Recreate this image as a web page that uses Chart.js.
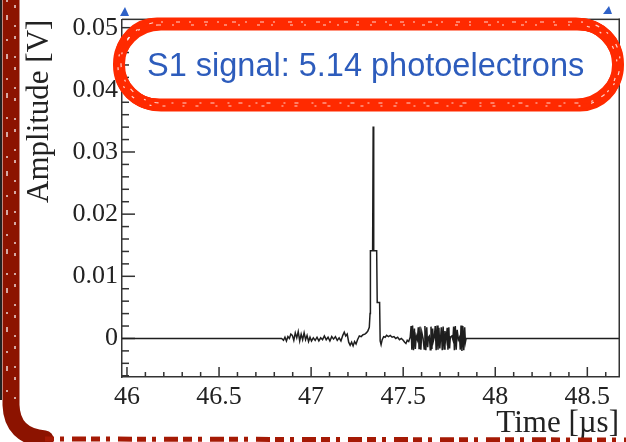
<!DOCTYPE html>
<html>
<head>
<meta charset="utf-8">
<script src="https://cdn.jsdelivr.net/npm/chart.js@4.4.1/dist/chart.umd.min.js"></script>
<style>
  html, body { margin: 0; padding: 0; background: #fff; }
  #wrap { position: relative; width: 626px; height: 442px; }
  #wrap canvas { position: absolute; left: 0; top: 0; display: block; }
</style>
</head>
<body>
<div id="wrap">
  <canvas id="tickLayer" width="626" height="442"></canvas>
  <canvas id="myChart" width="626" height="442"></canvas>
</div>
<script>
var sampleTimes = [
  45.973, 46.840, 46.850, 46.858, 46.866, 46.874, 46.882, 46.890, 46.898, 46.906,
  46.914, 46.922, 46.930, 46.938, 46.946, 46.954, 46.962, 46.970, 46.978, 46.986,
  46.994, 47.002, 47.012, 47.022, 47.032, 47.042, 47.052, 47.062, 47.072, 47.082,
  47.092, 47.102, 47.112, 47.122, 47.132, 47.142, 47.152, 47.162, 47.172, 47.180,
  47.188, 47.196, 47.204, 47.212, 47.220, 47.228, 47.236, 47.244, 47.252, 47.262,
  47.272, 47.282, 47.292, 47.300, 47.308, 47.316, 47.320, 47.322, 47.334, 47.337,
  47.340, 47.356, 47.359, 47.372, 47.375, 47.380, 47.386, 47.394, 47.402, 47.410,
  47.420, 47.430, 47.440, 47.450, 47.460, 47.470, 47.480, 47.490, 47.500, 47.508,
  47.515, 47.522, 47.530, 47.538, 47.543, 47.547, 47.551, 47.556, 47.561, 47.566,
  47.571, 47.577, 47.582, 47.586, 47.591, 47.596, 47.601, 47.608, 47.614, 47.618,
  47.623, 47.628, 47.633, 47.637, 47.642, 47.647, 47.651, 47.656, 47.660, 47.664,
  47.669, 47.674, 47.679, 47.684, 47.689, 47.694, 47.699, 47.703, 47.707, 47.712,
  47.717, 47.722, 47.727, 47.733, 47.739, 47.743, 47.748, 47.752, 47.756, 47.764,
  47.770, 47.774, 47.778, 47.783, 47.788, 47.793, 47.800, 47.806, 47.810, 47.814,
  47.819, 47.824, 47.829, 47.834, 47.838, 47.842, 48.672
];
var sampleVolts = [
  0, 0, -0.0003, 0.0002, -0.0004, 0.0003, 0.0000, 0.0007, 0.0005, -0.0003,
  0.0009, 0.0001, 0.0011, -0.0004, 0.0007, -0.0002, 0.0009, -0.0002, 0.0005, -0.0005,
  0.0002, -0.0004, 0.0001, -0.0003, 0.0002, -0.0004, 0.0001, -0.0002, 0.0004, -0.0002,
  0.0002, -0.0004, 0.0003, -0.0001, 0.0003, -0.0003, 0.0001, -0.0004, 0.0005, 0.0010,
  0.0004, 0.0007, -0.0006, -0.0011, -0.0006, -0.0012, -0.0005, -0.0009, -0.0002, 0.0004,
  0.0003, 0.0006, 0.0007, 0.0009, 0.0012, 0.0018, 0.0040, 0.0141, 0.0141, 0.0341,
  0.0141, 0.0141, 0.0058, 0.0058, -0.0004, -0.0010, -0.0002, 0.0003, 0.0002, 0.0005,
  0.0003, 0.0005, 0.0002, 0.0003, 0.0000, 0.0002, -0.0002, 0.0000, -0.0003, -0.0006,
  -0.0008, -0.0003, -0.0005, 0.0002, 0.0020, -0.0018, 0.0021, -0.0019, 0.0016, -0.0017,
  0.0004, -0.0002, 0.0018, -0.0016, 0.0019, -0.0018, 0.0010, 0.0000, -0.0017, 0.0020,
  -0.0019, 0.0018, -0.0014, 0.0002, 0.0004, -0.0018, 0.0019, -0.0017, 0.0016, -0.0004,
  0.0002, 0.0020, -0.0019, 0.0021, -0.0018, 0.0017, -0.0016, 0.0000, 0.0018, -0.0019,
  0.0019, -0.0017, 0.0012, -0.0002, 0.0017, -0.0018, 0.0018, -0.0016, 0.0002, 0.0004,
  -0.0002, 0.0019, -0.0019, 0.0020, -0.0018, 0.0014, -0.0002, 0.0002, -0.0018, 0.0021,
  -0.0020, 0.0020, -0.0019, 0.0018, -0.0006, 0, 0
];

var xRange = [45.973, 48.672];
var yRange = [-0.0062, 0.0513];
var xTicks = [46, 46.5, 47, 47.5, 48, 48.5];
var xTickLabels = ["46", "46.5", "47", "47.5", "48", "48.5"];
var yTicks = [0, 0.01, 0.02, 0.03, 0.04, 0.05];
var yTickLabels = ["0", "0.01", "0.02", "0.03", "0.04", "0.05"];
var xMinorStep = 0.1;
var yMinorStep = 0.002;

var xTitle = "Time [\u00b5s]";
var yTitle = "Amplitude [V]";
var noteText = "S1 signal: 5.14 photoelectrons";

var axisColor = "#333";
var serif = "'Liberation Serif', 'Times New Roman', serif";

var points = sampleTimes.map(function(t, i) {
  return {x: t, y: sampleVolts[i]};
});

function drawFrame(chart) {
  var ctx = chart.ctx;
  var a = chart.chartArea;
  ctx.save();
  ctx.fillStyle = axisColor;
  ctx.fillRect(a.left, a.top - 1, a.right - a.left + 1, 1.5);
  ctx.fillRect(a.right - 0.5, a.top - 1, 1.5, a.bottom - a.top + 1);
  ctx.restore();
}

// pixel for a value on a scale, kept inside the frame span
function pixelOf(scale, v, lo, hi, range) {
  var p = scale.getPixelForValue(v);
  var mn = Math.min(lo, hi) - 1, mx = Math.max(lo, hi) + 1;
  if (!isFinite(p) || p < mn || p > mx) {
    p = lo + (v - range[0]) / (range[1] - range[0]) * (hi - lo);
  }
  return p;
}

// ROOT style ticks pointing into the frame, on a layer under the chart
function drawTicks(chart) {
  var ctx = document.getElementById("tickLayer").getContext("2d");
  var a = chart.chartArea;
  var xs = chart.scales.x, ys = chart.scales.y;
  ctx.clearRect(0, 0, 626, 442);
  ctx.fillStyle = axisColor;
  var i, v, p, len;
  var x0 = Math.ceil(xRange[0] / xMinorStep - 1e-6);
  for (i = 0; i < 40; i++) {
    v = (x0 + i) * xMinorStep;
    if (v > xRange[1]) break;
    p = pixelOf(xs, v, a.left, a.right, xRange);
    len = ((x0 + i) % 5 === 0) ? 10 : 5;
    ctx.fillRect(p - 0.75, a.bottom - len, 1.5, len);
  }
  var y0 = Math.ceil(yRange[0] / yMinorStep - 1e-6);
  for (i = 0; i < 40; i++) {
    v = (y0 + i) * yMinorStep;
    if (v > yRange[1]) break;
    p = pixelOf(ys, v, a.bottom, a.top, yRange);
    len = (Math.abs(y0 + i) % 5 === 0) ? 13 : 7;
    ctx.fillRect(a.left, p - 0.75, len, 1.5);
  }
}

function drawNote(ctx) {
  ctx.save();
  // small blue markers peeking above the frame
  ctx.fillStyle = "#2f62c8";
  ctx.beginPath();
  ctx.moveTo(120, 16); ctx.lineTo(129, 16); ctx.lineTo(125, 7);
  ctx.closePath(); ctx.fill();
  ctx.beginPath();
  ctx.moveTo(603, 14); ctx.lineTo(612, 14); ctx.lineTo(609, 6);
  ctx.closePath(); ctx.fill();

  // marker ring around the note
  var ring = {x: 119, y: 24, w: 499, h: 81, r: 40};
  var strokes = [[0, 0, 12], [-2, -4, 5], [2, 4, 5], [3, -3, 4], [-3, 3, 4], [1, -5, 2], [-1, 5, 2]];
  ctx.strokeStyle = "#ff2a00";
  ctx.lineJoin = "round";
  strokes.forEach(function(s) {
    ctx.lineWidth = s[2];
    ctx.beginPath();
    ctx.roundRect(ring.x + s[0], ring.y + s[1], ring.w, ring.h, ring.r);
    ctx.stroke();
  });
  ctx.strokeStyle = "rgba(255,255,255,0.8)";
  ctx.lineWidth = 1.2;
  ctx.setLineDash([3, 11, 2, 17]);
  ctx.beginPath();
  ctx.roundRect(ring.x - 1, ring.y + 1, ring.w, ring.h, ring.r);
  ctx.stroke();
  ctx.setLineDash([2, 13, 4, 9]);
  ctx.beginPath();
  ctx.roundRect(ring.x + 2, ring.y - 2, ring.w, ring.h, ring.r);
  ctx.stroke();
  ctx.setLineDash([]);

  ctx.fillStyle = "#2d5cbc";
  ctx.font = "32.5px 'Liberation Sans', Arial, sans-serif";
  ctx.textBaseline = "alphabetic";
  ctx.textAlign = "left";
  ctx.fillText(noteText, 147, 76);
  ctx.restore();
}

function drawBorder(ctx) {
  // sketchy dark red page border, left and bottom
  ctx.save();
  ctx.strokeStyle = "#8c1300";
  ctx.lineCap = "round";
  ctx.lineWidth = 17;
  ctx.beginPath();
  ctx.moveTo(11, -10);
  ctx.lineTo(11, 405);
  ctx.quadraticCurveTo(12, 436, 45, 439);
  ctx.stroke();
  ctx.strokeStyle = "rgba(255,255,255,0.85)";
  ctx.lineWidth = 1.5;
  ctx.lineCap = "butt";
  ctx.setLineDash([2, 13, 5, 19]);
  ctx.beginPath(); ctx.moveTo(7, 0); ctx.lineTo(7, 400); ctx.stroke();
  ctx.setLineDash([3, 17, 2, 9]);
  ctx.beginPath(); ctx.moveTo(15, 5); ctx.lineTo(15, 405); ctx.stroke();
  ctx.setLineDash([9, 6, 4, 8, 14, 5]);
  ctx.strokeStyle = "#a51a05";
  ctx.lineWidth = 5;
  ctx.beginPath(); ctx.moveTo(45, 439); ctx.lineTo(630, 440); ctx.stroke();
  ctx.setLineDash([]);
  ctx.strokeStyle = "#222";
  ctx.lineWidth = 2;
  ctx.beginPath(); ctx.moveTo(1, 0); ctx.lineTo(1, 400); ctx.stroke();
  ctx.restore();
}

var overlay = {
  id: 'overlay',
  afterDraw: function(chart) {
    drawFrame(chart);
    drawTicks(chart);
    drawNote(chart.ctx);
    drawBorder(chart.ctx);
  }
};

new Chart("myChart", {
  type: "line",
  data: {
    datasets: [{
      data: points,
      borderColor: "#1e1e1e",
      borderWidth: 1.5,
      pointRadius: 0,
      tension: 0,
      fill: false
    }]
  },
  plugins: [overlay],
  options: {
    responsive: false,
    animation: false,
    devicePixelRatio: 1,
    layout: {padding: {left: 0, right: 7, top: 18, bottom: 0}},
    plugins: {legend: {display: false}, tooltip: {enabled: false}},
    scales: {
      x: {
        type: "linear",
        min: xRange[0],
        max: xRange[1],
        afterBuildTicks: function(scale) {
          scale.ticks = xTicks.map(function(v) { return {value: v}; });
        },
        afterFit: function(scale) { scale.height = 65; },
        grid: {display: false, drawTicks: false},
        border: {display: true, color: axisColor, width: 1.5},
        ticks: {
          padding: 5,
          maxRotation: 0,
          color: "#222",
          font: {family: serif, size: 26},
          callback: function(v) { return xTickLabels[xTicks.indexOf(v)]; }
        },
        title: {
          display: true, text: xTitle, align: "end", color: "#222",
          font: {family: serif, size: 31}, padding: {top: 0, bottom: 0}
        }
      },
      y: {
        type: "linear",
        min: yRange[0],
        max: yRange[1],
        afterBuildTicks: function(scale) {
          scale.ticks = yTicks.map(function(v) { return {value: v}; });
        },
        afterFit: function(scale) { scale.width = 122; },
        grid: {display: false, drawTicks: false},
        border: {display: true, color: axisColor, width: 1.5},
        ticks: {
          padding: 4,
          color: "#222",
          font: {family: serif, size: 26},
          callback: function(v) { return yTickLabels[yTicks.indexOf(v)]; }
        },
        title: {
          display: true, text: yTitle, align: "end", color: "#222",
          font: {family: serif, size: 31}, padding: {top: 21, bottom: 0}
        }
      }
    }
  }
});
</script>
</body>
</html>
